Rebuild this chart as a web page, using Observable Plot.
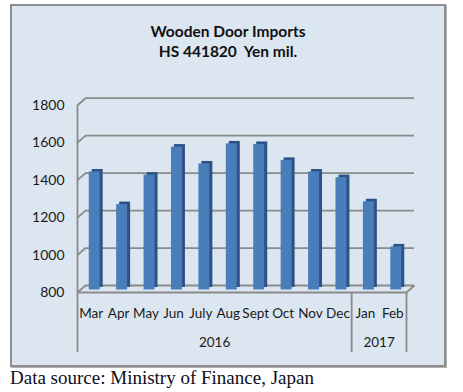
<!DOCTYPE html>
<html>
<head>
<meta charset="utf-8">
<script src="https://cdn.jsdelivr.net/npm/d3@7"></script>
<script src="https://cdn.jsdelivr.net/npm/@observablehq/plot@0.6"></script>
<style>
  html, body { margin: 0; padding: 0; background: #ffffff; }
  #wrap { position: relative; width: 463px; height: 392px; overflow: hidden; }
  #frame { position: absolute; left: 10px; top: 4px; width: 436px; height: 363px; box-sizing: border-box;
           background: #dce6f1; border: 2px solid #8e8e8e; box-shadow: 1px 1px 0 #b0b0b0; }
  .title { position: absolute; left: 10px; width: 436px; text-align: center; font-family: Lato, "Open Sans", sans-serif;
           font-weight: bold; font-size: 15.5px; color: #111; line-height: 1; }
  #chart { position: absolute; left: 0; top: 0; }
  #source { position: absolute; left: 10px; top: 368px; font-family: "Liberation Serif", "DejaVu Serif", serif;
            font-size: 19px; line-height: 1; color: #0d0d1a; white-space: nowrap; }
</style>
</head>
<body>
<div id="wrap">
  <div id="frame"></div>
  <div class="title" id="t1" style="top:24px">Wooden Door Imports</div>
  <div class="title" id="t2" style="top:44px">HS 441820&nbsp; Yen mil.</div>
  <div id="chart"></div>
  <div id="source">Data source: Ministry of Finance, Japan</div>
</div>
<script>
// ---- data ----
const months = ["Mar", "Apr", "May", "Jun", "July", "Aug", "Sept", "Oct", "Nov", "Dec", "Jan", "Feb"];
const monthYear = ["2016", "2016", "2016", "2016", "2016", "2016", "2016", "2016", "2016", "2016", "2017", "2017"];
const values = [1430, 1256, 1413, 1563, 1473, 1580, 1577, 1492, 1430, 1400, 1271, 1030];
const yTicks = [800, 1000, 1200, 1400, 1600, 1800];

// ---- derived ----
const data = months.map((m, i) => ({ month: m, year: monthYear[i], value: values[i], i }));
const years = Array.from(new Set(monthYear));
const yearStart = years.map(y => monthYear.indexOf(y));
const yearEnd = years.map(y => monthYear.lastIndexOf(y) + 1);
const boundaries = Array.from(new Set([...yearStart, ...yearEnd]));
const yearCenters = years.map((y, k) => (yearStart[k] + yearEnd[k]) / 2);

// ---- layout ----
const W = 463, H = 392;
const mL = 77, mR = 57, mT = 104.7, mB = 100;
const depthPx = { x: 8, y: 7 };                     // back wall offset (pixels)
const pxPerX = (W - mL - mR) / months.length;
const pxPerY = (H - mT - mB) / (yTicks[yTicks.length - 1] - yTicks[0]);
const DX = depthPx.x / pxPerX, DY = depthPx.y / pxPerY;
const grid = "#8a8a8a";
const font = "Lato, 'Open Sans', sans-serif";

const chart = Plot.plot({
  width: W, height: H,
  marginLeft: mL, marginRight: mR, marginTop: mT, marginBottom: mB,
  style: { background: "transparent", fontFamily: font, color: "#1a1a1a", overflow: "visible" },
  x: { type: "linear", domain: [0, months.length] },
  y: { domain: [yTicks[0], yTicks[yTicks.length - 1]] },
  marks: [
    // back wall gridlines
    Plot.ruleY(yTicks, { x1: 0, x2: months.length, dx: depthPx.x, dy: -depthPx.y, stroke: grid, strokeWidth: 1.8 }),
    // left wall diagonals
    Plot.link(yTicks, { x1: 0, x2: DX, y1: d => d, y2: d => d + DY, stroke: grid, strokeWidth: 1.8 }),
    // floor front edge and right diagonal
    Plot.ruleY([yTicks[0]], { x1: 0, x2: months.length, stroke: grid, strokeWidth: 1.8 }),
    Plot.link([yTicks[0]], { x1: months.length, x2: months.length + DX, y1: d => d, y2: d => d + DY, stroke: grid, strokeWidth: 1.8 }),
    // left front edge
    Plot.ruleX([0], { y1: yTicks[0], y2: yTicks[yTicks.length - 1], stroke: grid, strokeWidth: 1.8 }),
    // 3D bars: side/top face then front face
    Plot.rect(data, { x1: d => d.i + 0.3, x2: d => d.i + 0.7, y1: yTicks[0], y2: "value", dx: 6.5, dy: -5, fill: "#2d5285" }),
    Plot.rect(data, { x1: d => d.i + 0.3, x2: d => d.i + 0.7, y1: yTicks[0], y2: "value", dx: 3.5, dy: -2.5, fill: "#4a7ebb" }),
    // y axis labels
    Plot.axisY({ ticks: yTicks, tickSize: 0, tickPadding: 13, label: null, fontSize: 14, tickFormat: d => String(d) }),
    // month labels
    Plot.axisX({ ticks: data.map(d => d.i + 0.5), tickFormat: v => months[Math.floor(v)], tickSize: 0, tickPadding: 16, label: null, fontSize: 13.5 }),
    // year labels
    Plot.axisX({ ticks: yearCenters, tickFormat: v => years[yearCenters.indexOf(v)], tickSize: 0, tickPadding: 45, label: null, fontSize: 13.5 }),
    // category group separators
    Plot.axisX({ ticks: boundaries, tickFormat: () => "", tickSize: 60, label: null, stroke: grid, strokeWidth: 1.8 })
  ]
});
document.getElementById("chart").appendChild(chart);
</script>
</body>
</html>
